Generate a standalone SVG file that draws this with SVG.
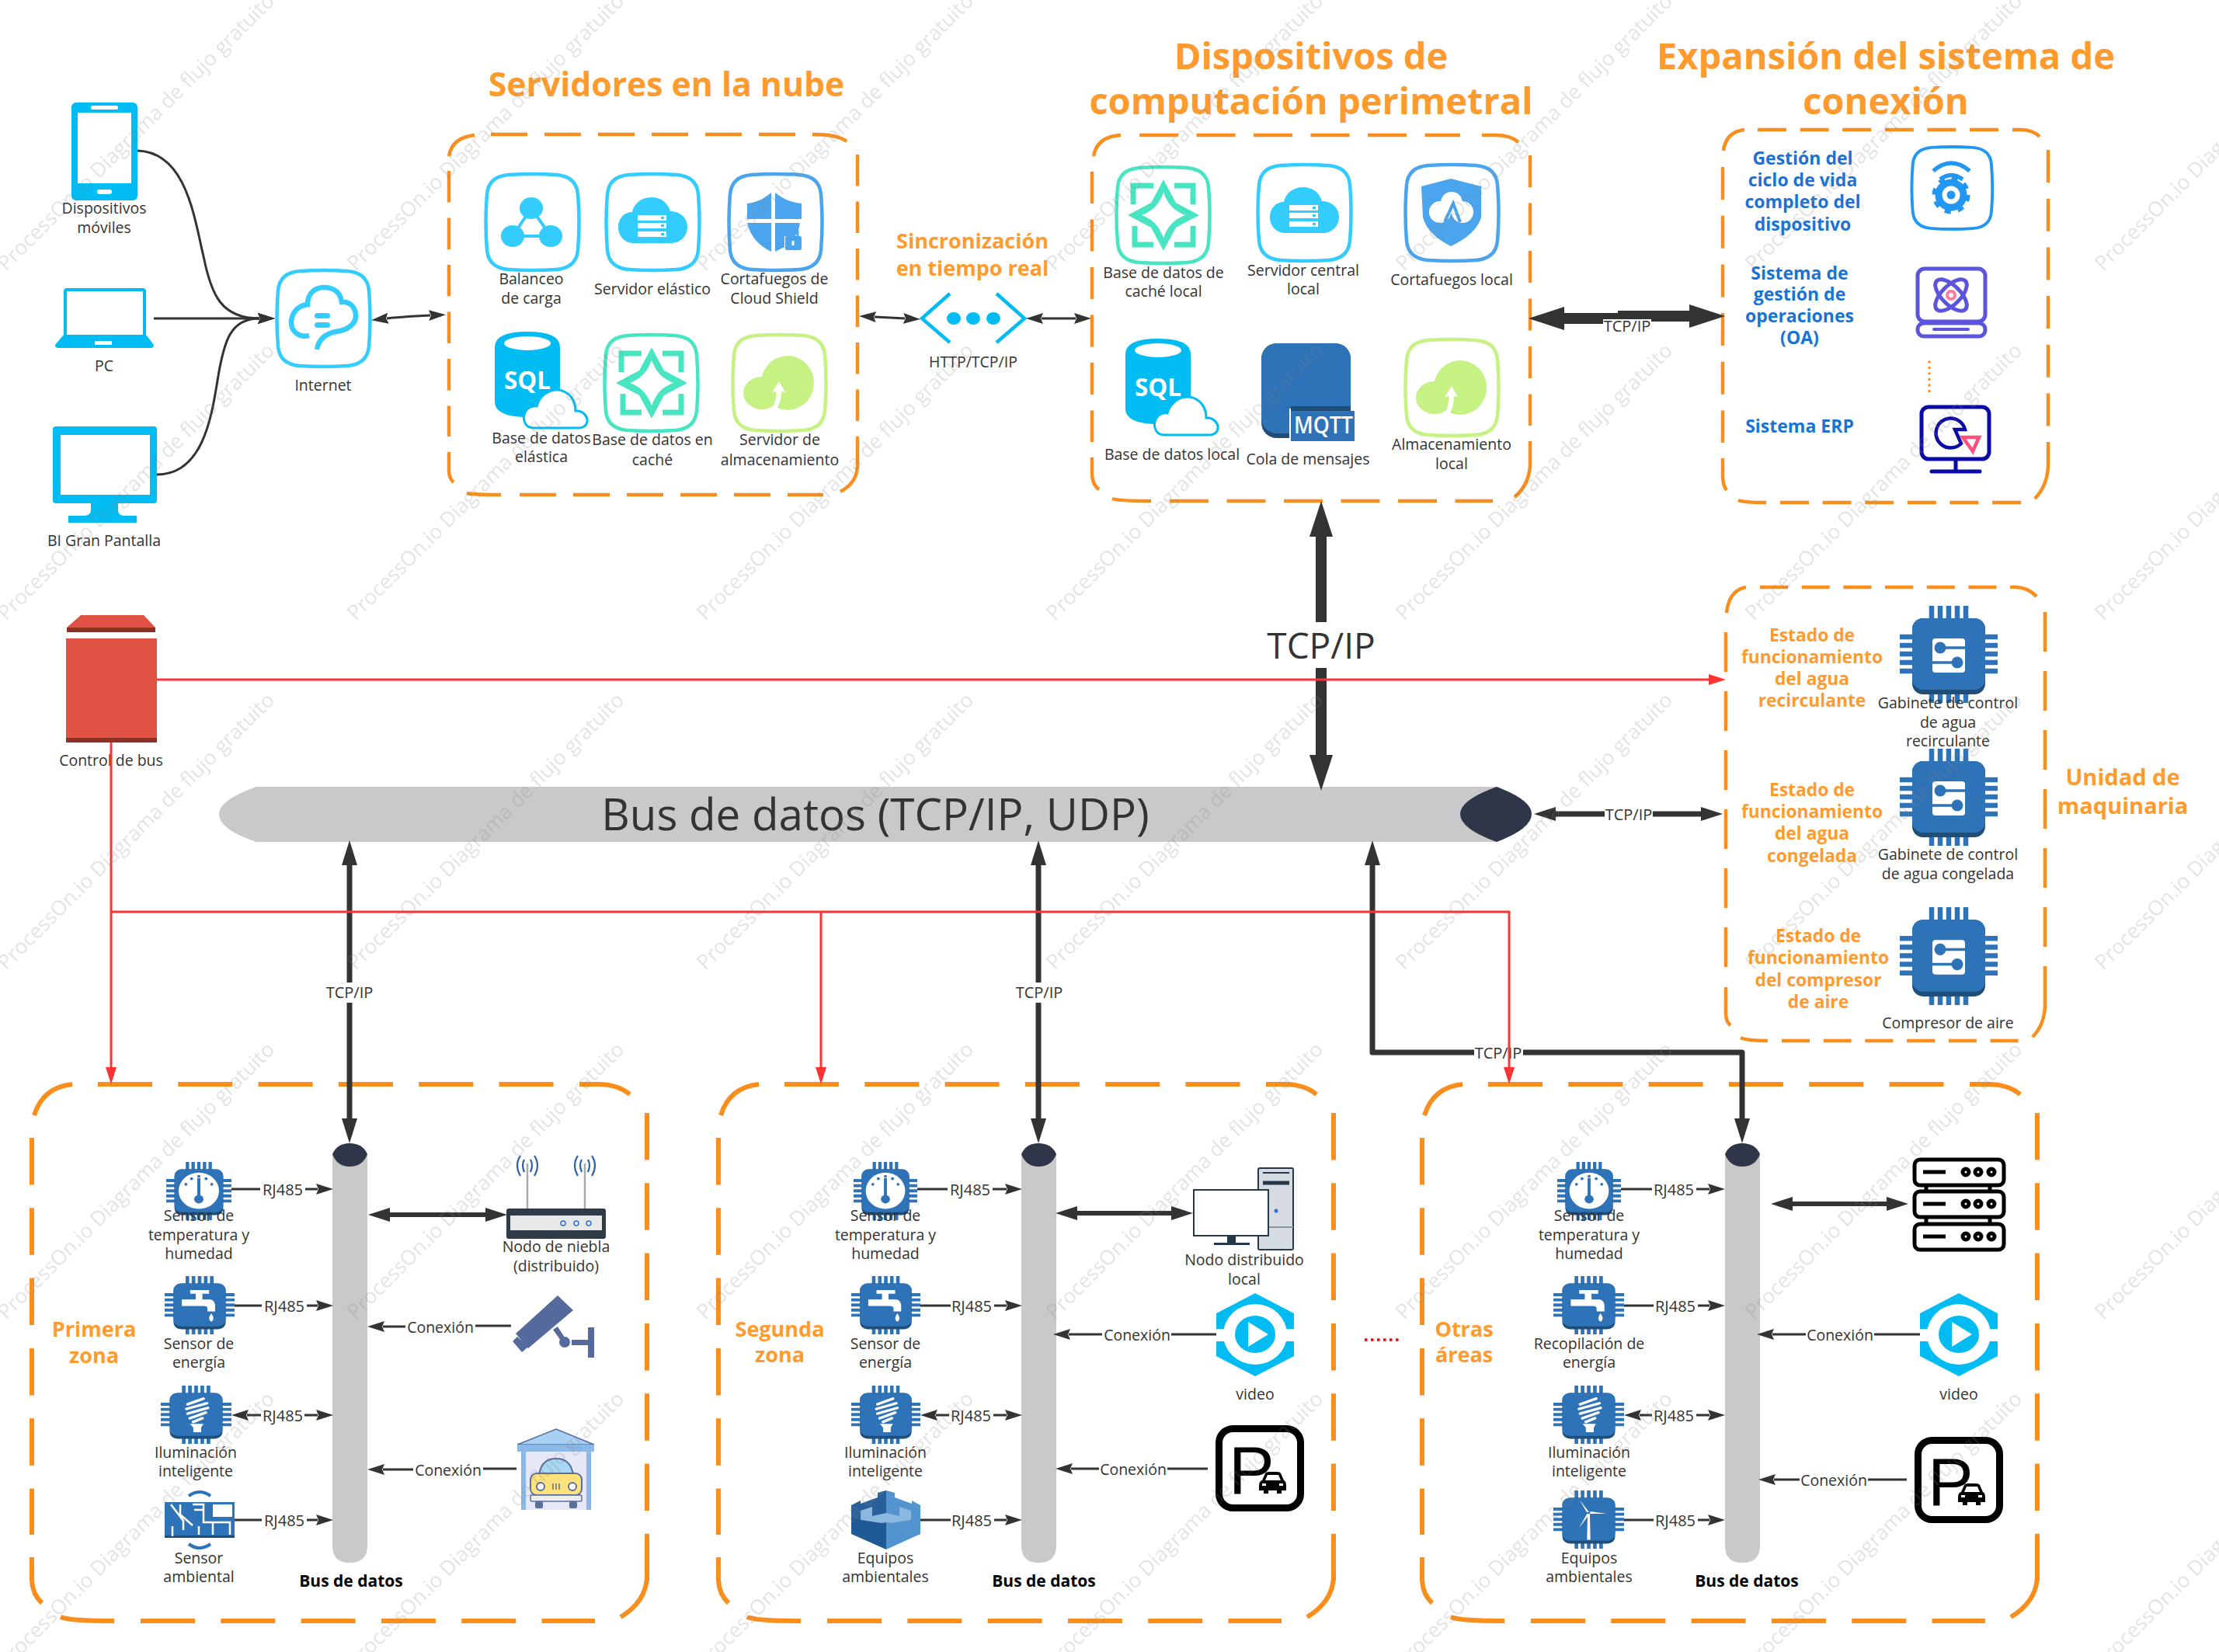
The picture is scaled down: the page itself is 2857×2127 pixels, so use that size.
<svg xmlns="http://www.w3.org/2000/svg" width="2857" height="2127" viewBox="0 0 2857 2127">
<style>
text{font-family:"Open Sans","Noto Sans","Liberation Sans",sans-serif}
.t{font-size:19.5px;fill:#333;text-anchor:middle}
.s{font-size:20px}
.ti{font-size:47px;font-weight:700;fill:#ff9a2e;text-anchor:middle}
.or{font-size:22.8px;font-weight:700;fill:#ff9a2e;text-anchor:middle}
.zn{font-size:27px;font-weight:700;fill:#ff9a2e;text-anchor:middle}
.bl{font-size:23px;font-weight:700;fill:#1a73d4;text-anchor:middle}
.bd{font-size:21px;font-weight:700;fill:#000;text-anchor:middle}
.d{fill:none;stroke:#f98e1c;stroke-width:4.5}
.z{fill:none;stroke:#f98e1c;stroke-width:6}
.c{fill:none;stroke:#333;stroke-width:3}
.c3{fill:none;stroke:#333;stroke-width:6}
.c7{fill:none;stroke:#333;stroke-width:7}
.c14{fill:none;stroke:#333;stroke-width:14}
.r{fill:none;stroke:#f33;stroke-width:3}
.sm{marker-end:url(#m1)}.sb{marker-start:url(#m1);marker-end:url(#m1)}
.dev{fill:#00bcf2}.wh{fill:#fff}.cb{fill:#33ccff}
</style>
<defs>
<marker id="m1" markerUnits="userSpaceOnUse" markerWidth="24" markerHeight="20" refX="2" refY="10" orient="auto-start-reverse"><path d="M0 3L22 10L0 17L3 10Z" fill="#333"/></marker>
<marker id="m3" markerUnits="userSpaceOnUse" markerWidth="30" markerHeight="22" refX="2" refY="11" orient="auto-start-reverse"><path d="M0 2L28 11L0 20Z" fill="#333"/></marker>
<marker id="m4" markerUnits="userSpaceOnUse" markerWidth="34" markerHeight="24" refX="2" refY="12" orient="auto-start-reverse"><path d="M0 2L32 12L0 22Z" fill="#333"/></marker>
<marker id="m5" markerUnits="userSpaceOnUse" markerWidth="50" markerHeight="34" refX="2" refY="17" orient="auto-start-reverse"><path d="M2 2L48 17L2 32Z" fill="#333"/></marker>
<marker id="r1" markerUnits="userSpaceOnUse" markerWidth="24" markerHeight="18" refX="2" refY="9" orient="auto"><path d="M0 2L22 9L0 16Z" fill="#f33"/></marker>

<path id="fr" d="M30 1Q60 -1 91 1Q117 3 119 26Q122 62 119 98Q117 121 91 123Q60 125 30 123Q4 121 2 98Q-1 62 2 26Q4 3 30 1Z" fill="#fff" stroke-width="4.500"/>
<g id="cloudsrv"><path class="cb" d="M20 59C8 59 0 50 0 38C0 27 8 19 18 19C20 8 30 0 43 0C56 0 64 8 67 18C80 18 89 27 89 38C89 50 80 59 68 59Z"/><path class="wh" d="M25 23H62V30H25ZM25 33H62V40H25ZM25 44H62V51H25Z"/><path class="cb" d="M55 25h4v3h-4zM55 35h4v3h-4zM55 46h4v3h-4z"/></g>
<g id="cache"><use href="#fr" stroke="#47e5c2"/><path d="M22 48V24H48M75 24H99V48M99 76V100H75M48 100H24V76" fill="none" stroke="#47e5c2" stroke-width="7"/><path d="M61 13L78 45L110 62L78 79L61 111L44 79L12 62L44 45Z" fill="#47e5c2" stroke="#fff" stroke-width="3"/><path d="M61 38Q68 55 84 62Q68 69 61 86Q54 69 38 62Q54 55 61 38Z" fill="#fff" stroke="#fff" stroke-width="4"/></g>
<g id="store"><use href="#fr" stroke="#c5f283"/><ellipse cx="71" cy="62" rx="34" ry="35" fill="#c5f283"/><ellipse cx="38" cy="75" rx="24" ry="21" fill="#c5f283"/><path d="M60 60L68 74L63 73Q63 88 56 97L49 97Q57 88 56 73L51 74Z" fill="#fff"/></g>
<g id="sql"><path d="M0 20Q0 0 42 0Q84 0 84 20V90Q84 110 42 110Q0 110 0 90Z" fill="#00bcf2"/><ellipse cx="42" cy="15" rx="30" ry="9" fill="#fff"/><text x="42" y="74" font-size="33" font-weight="700" fill="#fff" text-anchor="middle" textLength="60" lengthAdjust="spacingAndGlyphs">SQL</text><path d="M50 124C40 124 36 115 38 107C40 98 48 95 54 96C58 82 70 74 82 75C96 77 104 88 104 102C114 101 120 110 119 116C118 122 112 124 108 124Z" fill="#fff" stroke="#00bcf2" stroke-width="3"/></g>
<g id="cpins"><path d="M41 0V125M52 0V125M63 0V125M74 0V125M85 0V125M0 40H126M0 51H126M0 62H126M0 73H126M0 84H126" stroke="#2e73b8" stroke-width="6.5" fill="none"/><rect x="16" y="16" width="94" height="98" rx="14" fill="#1f4e79"/><rect x="16" y="16" width="94" height="92" rx="14" fill="#2e73b8"/></g>
<symbol id="chip-s" viewBox="0 0 126 125" preserveAspectRatio="none"><use href="#cpins"/><rect x="42" y="42" width="42" height="44" rx="4" fill="#fff"/><path d="M50 54H84M42 73H74" stroke="#2e73b8" stroke-width="3.5"/><circle cx="52" cy="54" r="7.5" fill="#2e73b8"/><circle cx="74" cy="73" r="7.5" fill="#2e73b8"/></symbol>
<symbol id="chip-temp" viewBox="0 0 126 125" preserveAspectRatio="none"><use href="#cpins"/><circle cx="63" cy="62" r="39" fill="#fff"/><path d="M63 35V78" stroke="#2e73b8" stroke-width="6"/><circle cx="63" cy="80" r="9" fill="#2e73b8"/><path d="M38 48v.1M49 36v.1M63 31v.1M77 36v.1M88 48v.1" stroke="#2e73b8" stroke-width="6" stroke-linecap="round"/></symbol>
<symbol id="chip-tap" viewBox="0 0 126 125" preserveAspectRatio="none"><use href="#cpins"/><path d="M46 30H80V38H68V50H82Q91 52 91 65V76H77V68Q76 64 70 64H31V50H56V38H46Z" fill="#fff"/><path d="M84 80Q92 92 84 98Q76 92 84 80Z" fill="#fff"/></symbol>
<symbol id="chip-bulb" viewBox="0 0 126 125" preserveAspectRatio="none"><use href="#cpins"/><path d="M48 40L76 28M46 50L82 38M48 60L84 48M52 70L80 58M58 78L74 70" stroke="#fff" stroke-width="5.5" stroke-linecap="round"/><path d="M52 82H76L72 90V100H58V90Z" fill="#fff"/></symbol>
<symbol id="chip-wind" viewBox="0 0 126 125" preserveAspectRatio="none"><use href="#cpins"/><path d="M61 50H65L66 106H60Z" fill="#fff"/><path d="M64 47L47 21L59 46ZM65 50L95 50L66 45ZM60 50L46 80L63 53Z" fill="#fff"/></symbol>
<symbol id="video" viewBox="0 0 100 107"><path d="M50 0L100 26V81L50 107L0 81V26Z" fill="#00bcf2"/><ellipse cx="50" cy="53" rx="41" ry="39" fill="#fff"/><path d="M0 46H16V62H0ZM84 46H100V62H84Z" fill="#fff"/><ellipse cx="50" cy="53" rx="26" ry="24" fill="#00bcf2"/><path d="M41 37V69L67 53Z" fill="#fff"/></symbol>
<symbol id="park" viewBox="0 0 114 111"><rect x="4.500" y="4.500" width="105" height="102" rx="18" fill="#fff" stroke="#000" stroke-width="9"/><text x="17" y="88" font-size="88" fill="#000" style="font-family:'Liberation Sans',sans-serif">P</text><path d="M56 78Q56 72 60 71L64 62Q65 60 69 60H79Q83 60 84 62L88 71Q91 72 91 78V84H85V88H79V84H68V88H62V84H56Z" fill="#000"/><path d="M67 64H81L84 71H64Z" fill="#fff"/><path d="M60 75h5v3h-5zM82 75h5v3h-5z" fill="#fff"/></symbol>
<g id="zf"><path class="z" stroke-dasharray="70 33.3" d="M126 1396H713M181 2087H766"/><path class="z" stroke-dasharray="60.5 29.8" d="M41 1465V1976M833 1433V2036"/><path class="z" d="M93 1396Q55 1400 44 1436M746 1396H770Q795 1396 811 1409M833 2030Q832 2062 799 2082M41 2005V2035Q42 2053 54 2064M78 2082Q90 2087 147 2087"/></g>
<g id="vbus"><path d="M428 1486V1990Q428 2012 450 2012Q473 2012 473 1990V1486Z" fill="#c9c9c9"/><path d="M428 1486Q434 1472 450 1472Q467 1472 473 1486Q467 1502 450 1502Q434 1502 428 1486Z" fill="#30364a"/></g>
<pattern id="wm" width="450" height="450" patternUnits="userSpaceOnUse" patternTransform="translate(-25 -25)"><text transform="translate(33 375) rotate(-45)" font-size="26.4" fill="#808080" fill-opacity=".22">ProcessOn.io Diagrama de flujo gratuito</text></pattern>
</defs>
<rect width="2857" height="2127" fill="#fff"/>

<g id="movil"><rect class="dev" x="92" y="132" width="85" height="126" rx="6"/><rect class="wh" x="100" y="145" width="69" height="91"/><rect class="wh" x="117" y="136" width="35" height="5" rx="2"/><rect class="wh" x="125" y="244" width="19" height="6" rx="3"/><text class="t" x="134" y="275">Dispositivos</text><text class="t" x="134" y="300">móviles</text></g>
<g id="pc"><rect x="84" y="373" width="102" height="60" rx="2" fill="#fff" stroke="#00bcf2" stroke-width="4"/><path class="dev" d="M82 431H188L198 444Q198 448 194 448H75Q71 448 71 444Z"/><rect class="wh" x="122" y="439" width="22" height="5"/><text class="t" x="134" y="478">PC</text></g>
<g id="bi"><rect class="dev" x="68" y="549" width="134" height="99" rx="4"/><rect class="wh" x="78" y="560" width="115" height="77"/><path class="dev" d="M117 648H152V657Q152 664 160 664H176V673H88V664H108Q117 664 117 657Z"/><text class="t" x="134" y="703">BI Gran Pantalla</text></g>
<g id="internet"><use href="#fr" transform="translate(356 348)" stroke="#33ccff"/><path d="M408 450C410 438 418 430 432 427C450 425 459 415 458 405C457 393 448 388 440 389C438 375 428 370 417 370C405 370 396 378 396 392C384 393 375 403 375 415C375 427 385 435 398 432" fill="none" stroke="#33ccff" stroke-width="6.500"/><rect class="cb" x="405" y="403" width="20" height="7" rx="3.500"/><rect class="cb" x="405" y="415" width="20" height="7" rx="3.500"/><text class="t" x="416" y="503">Internet</text></g>

<g id="nube"><text class="ti" x="858" y="124" style="font-size:42.7px">Servidores en la nube</text>
<path class="d" stroke-dasharray="47 22" d="M632 173H1024M669 637H1060"/><path class="d" stroke-dasharray="40.500 20" d="M578 220V562M1104 199V542"/><path class="d" d="M611 174Q582 177 578 201M1046 173Q1078 173 1090 182M1104 562V600Q1103 622 1082 633M578 582V605Q578 616 584 621M601 635Q610 637 645 637"/></g>
<g id="balanceo"><use href="#fr" transform="translate(625 224)" stroke="#33ccff"/><path d="M684 268L660 304H709Z" fill="none" stroke="#33ccff" stroke-width="4"/><ellipse class="cb" cx="684" cy="268" rx="15" ry="14"/><ellipse class="cb" cx="660" cy="304" rx="15" ry="14"/><ellipse class="cb" cx="709" cy="304" rx="15" ry="14"/><text class="t" x="684" y="366">Balanceo</text><text class="t" x="684" y="391">de carga</text></g>
<g id="elastico"><use href="#fr" transform="translate(780 224)" stroke="#33ccff"/><use href="#cloudsrv" transform="translate(796 254)"/><text class="t" x="840" y="379">Servidor elástico</text></g>
<g id="shield"><use href="#fr" transform="translate(938 224)" stroke="#4aa5ee"/><path d="M962 262Q980 260 993 248V282H962ZM998 248Q1012 260 1032 262V282H998ZM962 287H993V324Q968 312 962 287ZM998 287H1030Q1028 305 1010 318L998 324Z" fill="#4aa5ee"/><path d="M1010 304h24v20h-24z" fill="#fff"/><path d="M1015 306V298Q1015 291 1021 291Q1027 291 1027 298V306" fill="none" stroke="#4aa5ee" stroke-width="3"/><rect x="1011" y="304" width="21" height="18" rx="2" fill="#4aa5ee"/><path d="M1021 310v6" stroke="#fff" stroke-width="3"/><text class="t" x="997" y="366">Cortafuegos de</text><text class="t" x="997" y="391">Cloud Shield</text></g>
<g id="sqlel"><use href="#sql" transform="translate(637 427)"/><text class="t" x="697" y="571">Base de datos</text><text class="t" x="697" y="595">elástica</text></g>
<g id="cachen"><use href="#cache" transform="translate(778 431)"/><text class="t" x="840" y="573">Base de datos en</text><text class="t" x="840" y="599">caché</text></g>
<g id="storen"><use href="#store" transform="translate(943 431)"/><text class="t" x="1004" y="573">Servidor de</text><text class="t" x="1004" y="599">almacenamiento</text></g>

<g id="sync"><text class="zn" x="1252" y="320">Sincronización</text><text class="zn" x="1252" y="355">en tiempo real</text><path d="M1223 378L1187 410L1223 441M1283 378L1319 410L1283 441" fill="none" stroke="#00bcf2" stroke-width="4.500"/><ellipse class="dev" cx="1228" cy="410" rx="9" ry="8"/><ellipse class="dev" cx="1253" cy="410" rx="9" ry="8"/><ellipse class="dev" cx="1279" cy="410" rx="9" ry="8"/><text class="t" x="1253" y="473">HTTP/TCP/IP</text></g>

<g id="perimetral"><text class="ti" x="1688" y="89">Dispositivos de</text><text class="ti" x="1688" y="147">computación perimetral</text>
<path class="d" stroke-dasharray="50 23.500" d="M1467 174H1880M1506 645H1922"/><path class="d" stroke-dasharray="41 20.500" d="M1406 221V569M1970 200V548"/><path class="d" d="M1443 174Q1412 176 1408 201M1908 174H1925Q1945 174 1955 183M1970 568V600Q1968 625 1950 640M1406 589V612Q1407 625 1415 630M1432 642Q1440 645 1482 645"/></g>
<g id="cachel"><use href="#cache" transform="translate(1437 215)"/><text class="t" x="1498" y="358">Base de datos de</text><text class="t" x="1498" y="382">caché local</text></g>
<g id="central"><use href="#fr" transform="translate(1619 212)" stroke="#33ccff"/><use href="#cloudsrv" transform="translate(1635 241)"/><text class="t" x="1678" y="355">Servidor central</text><text class="t" x="1678" y="379">local</text></g>
<g id="cortal"><use href="#fr" transform="translate(1809 212)" stroke="#4aa5ee"/><path d="M1868 230L1907 240V280Q1900 302 1868 317Q1838 302 1832 280L1830 240Z" fill="#4aa5ee"/><circle class="wh" cx="1854" cy="273" r="14"/><circle class="wh" cx="1869" cy="261" r="14"/><circle class="wh" cx="1883" cy="273" r="14"/><path d="M1860 286L1871 262L1880 286" fill="none" stroke="#4aa5ee" stroke-width="4"/><text class="t" x="1869" y="367">Cortafuegos local</text></g>
<g id="sqll"><use href="#sql" transform="translate(1449 436)"/><text class="t" x="1509" y="592">Base de datos local</text></g>
<g id="mqtt"><rect x="1624" y="442" width="115" height="122" rx="20" fill="#1f4e79"/><rect x="1624" y="442" width="115" height="116" rx="20" fill="#2e73b8"/><rect x="1660" y="526" width="86" height="44" fill="#fff"/><rect x="1662" y="529" width="82" height="39" fill="#2e73b8"/><rect x="1662" y="523" width="77" height="6" fill="#1f4e79"/><text x="1704" y="558" font-size="30" font-weight="600" fill="#fff" text-anchor="middle" textLength="76" lengthAdjust="spacingAndGlyphs">MQTT</text><text class="t" x="1684" y="598">Cola de mensajes</text></g>
<g id="storel"><use href="#store" transform="translate(1809 437)"/><text class="t" x="1869" y="579">Almacenamiento</text><text class="t" x="1869" y="604">local</text></g>

<g id="expansion"><text class="ti" x="2428" y="89">Expansión del sistema de</text><text class="ti" x="2428" y="147">conexión</text>
<path class="d" stroke-dasharray="37 17.600" d="M2263 167H2573M2292 647H2602"/><path class="d" stroke-dasharray="42 20.700" d="M2218 215V570M2637 193V549"/><path class="d" d="M2246 167Q2222 170 2219 194M2591 167H2600Q2618 167 2626 176M2637 569V600Q2636 625 2620 642M2218 590V612Q2218 625 2223 631M2238 644Q2245 647 2274 647"/></g>
<g id="oplife"><text class="bl" x="2321" y="212">Gestión del</text><text class="bl" x="2321" y="240">ciclo de vida</text><text class="bl" x="2321" y="268">completo del</text><text class="bl" x="2321" y="297">dispositivo</text><use href="#fr" transform="translate(2461 189) scale(.865 .855)" stroke="#2196f3"/><path d="M2489 220Q2512 200 2536 220M2498 231Q2512 220 2527 231" fill="none" stroke="#2196f3" stroke-width="5.500"/><circle cx="2512" cy="251" r="16" fill="none" stroke="#2196f3" stroke-width="9"/><circle cx="2512" cy="251" r="22" fill="none" stroke="#2196f3" stroke-width="5" stroke-dasharray="8 9.300"/><circle cx="2512" cy="251" r="5.500" fill="#2196f3"/></g>
<g id="oa"><text class="bl" x="2317" y="360">Sistema de</text><text class="bl" x="2317" y="387">gestión de</text><text class="bl" x="2317" y="415">operaciones</text><text class="bl" x="2317" y="443">(OA)</text><rect x="2469" y="346" width="87" height="68" rx="9" fill="none" stroke="#5b54dc" stroke-width="5"/><rect x="2469" y="416" width="87" height="17" rx="8" fill="none" stroke="#5b54dc" stroke-width="5"/><path d="M2490 424H2534" stroke="#5b54dc" stroke-width="4" stroke-linecap="round"/><ellipse cx="2512" cy="380" rx="26" ry="12" fill="none" stroke="#5b54dc" stroke-width="5" transform="rotate(45 2512 380)"/><ellipse cx="2512" cy="380" rx="26" ry="12" fill="none" stroke="#5b54dc" stroke-width="5" transform="rotate(-45 2512 380)"/><circle cx="2512" cy="380" r="5" fill="#fff" stroke="#ff79a8" stroke-width="4"/></g>
<path id="puntos" d="M2484 466V506" stroke="#f98e1c" stroke-width="3.500" stroke-dasharray="0 7.500" stroke-linecap="round"/>
<g id="erp"><text class="bl" x="2317" y="557">Sistema ERP</text><rect x="2474" y="524" width="87" height="67" rx="9" fill="none" stroke="#0a0aa8" stroke-width="5"/><path d="M2518 592V607M2487 607H2549" stroke="#0a0aa8" stroke-width="5" stroke-linecap="round"/><path d="M2530 553A19 19 0 1 0 2525 571L2517 553Z" fill="none" stroke="#0a0aa8" stroke-width="4.500"/><path d="M2527 563H2548L2540 581Z" fill="none" stroke="#ff4f7b" stroke-width="4.500"/></g>

<g id="maquinaria"><text class="zn" x="2733" y="1011" style="font-size:29px">Unidad de</text><text class="zn" x="2733" y="1048" style="font-size:29px">maquinaria</text>
<path class="d" stroke-dasharray="36 17.700" d="M2266 756H2571M2294 1340H2599"/><path class="d" stroke-dasharray="51 25" d="M2222 814V1245M2633 788V1219"/><path class="d" d="M2248 756Q2226 760 2223 789M2588 756H2596Q2612 757 2622 768M2633 1244V1295Q2632 1320 2617 1335M2222 1271V1305Q2222 1315 2228 1320M2241 1336Q2250 1340 2276 1340"/></g>
<g id="recirc"><text class="or" x="2333" y="826">Estado de</text><text class="or" x="2333" y="854">funcionamiento</text><text class="or" x="2333" y="882">del agua</text><text class="or" x="2333" y="910">recirculante</text><use href="#chip-s" x="2446" y="780" width="126" height="125"/><text class="t" x="2508" y="912">Gabinete de control</text><text class="t" x="2508" y="937">de agua</text><text class="t" x="2508" y="961">recirculante</text></g>
<g id="congel"><text class="or" x="2333" y="1025">Estado de</text><text class="or" x="2333" y="1053">funcionamiento</text><text class="or" x="2333" y="1081">del agua</text><text class="or" x="2333" y="1110">congelada</text><use href="#chip-s" x="2446" y="964" width="126" height="125"/><text class="t" x="2508" y="1107">Gabinete de control</text><text class="t" x="2508" y="1132">de agua congelada</text></g>
<g id="compresor"><text class="or" x="2341" y="1213">Estado de</text><text class="or" x="2341" y="1241">funcionamiento</text><text class="or" x="2341" y="1270">del compresor</text><text class="or" x="2341" y="1298">de aire</text><use href="#chip-s" x="2446" y="1168" width="126" height="126"/><text class="t" x="2508" y="1324">Compresor de aire</text></g>

<g id="control"><path d="M104 792H185L200 808H86Z" fill="#e05243"/><rect x="86" y="808" width="114" height="6" fill="#8c3123"/><rect x="85" y="822" width="117" height="128" fill="#e05243"/><rect x="85" y="950" width="117" height="6" fill="#8c3123"/><text class="t" x="143" y="986">Control de bus</text></g>
<g id="busdatos"><path d="M1927 1013H330Q282 1030 282 1048Q282 1068 330 1084H1927Z" fill="#c9c9c9"/><path d="M1927 1013Q1880 1030 1880 1048Q1880 1067 1927 1084Q1972 1067 1972 1048Q1972 1030 1927 1013Z" fill="#30364a"/><text x="1127" y="1069" font-size="56.500" fill="#333" text-anchor="middle">Bus de datos (TCP/IP, UDP)</text></g>

<g id="zona1"><use href="#zf"/><use href="#vbus"/><text class="zn" x="121" y="1721">Primera</text><text class="zn" x="121" y="1755">zona</text><text class="bd" x="452" y="2043">Bus de datos</text>
<use href="#chip-temp" x="214" y="1496" width="84" height="75"/><text class="t" x="256" y="1572">Sensor de</text><text class="t" x="256" y="1597">temperatura y</text><text class="t" x="256" y="1621">humedad</text>
<use href="#chip-tap" x="212" y="1643" width="90" height="75"/><text class="t" x="256" y="1737">Sensor de</text><text class="t" x="256" y="1761">energía</text>
<use href="#chip-bulb" x="207" y="1784" width="91" height="75"/><text class="t" x="252" y="1877">Iluminación</text><text class="t" x="252" y="1901">inteligente</text>
<g id="circuito"><path d="M243 1926Q257 1916 271 1926M243 1988Q257 1998 271 1988" fill="none" stroke="#2e73b8" stroke-width="4"/><rect x="212" y="1934" width="90" height="45" fill="#2e73b8"/><rect x="212" y="1977" width="90" height="3" fill="#1f4e79"/><rect x="274" y="1937" width="25" height="16" fill="#fff"/><path d="M220 1937L236 1958V1970M232 1937V1950L248 1964M248 1937H262V1944H250M262 1937V1960H296V1976M274 1960V1976M222 1965V1978M256 1965V1976" fill="none" stroke="#fff" stroke-width="2.500"/></g><text class="t" x="256" y="2013">Sensor</text><text class="t" x="256" y="2037">ambiental</text>
<g id="router"><path d="M679 1498V1556M753 1498V1556" stroke="#aaa" stroke-width="2.500"/><path d="M670 1488Q662 1500 670 1514M675 1493Q671 1500 675 1509M688 1488Q696 1500 688 1514M683 1493Q687 1500 683 1509M744 1488Q736 1500 744 1514M749 1493Q745 1500 749 1509M762 1488Q770 1500 762 1514M757 1493Q761 1500 757 1509" fill="none" stroke="#2f5fa8" stroke-width="2.200"/><rect x="652" y="1556" width="128" height="39" rx="3" fill="#2f3b47"/><rect x="657" y="1565" width="118" height="19" fill="#e8e8e8"/><circle cx="725" cy="1575" r="3" fill="none" stroke="#2f6fd8" stroke-width="1.500"/><circle cx="742" cy="1575" r="3" fill="none" stroke="#2f6fd8" stroke-width="1.500"/><circle cx="758" cy="1575" r="3" fill="none" stroke="#2f6fd8" stroke-width="1.500"/><text class="t" x="716" y="1612">Nodo de niebla</text><text class="t" x="716" y="1637">(distribuido)</text></g>
<g id="camara" fill="#546a9c"><path d="M664 1717L718 1668L738 1687L680 1736Z"/><path d="M660 1727L666 1721L680 1734L672 1741Z"/><path d="M712 1712L718 1708L727 1722L722 1726Z"/><circle cx="727" cy="1728" r="7"/><rect x="736" y="1725" width="22" height="7"/><rect x="757" y="1709" width="8" height="39"/></g>
<g id="garaje"><rect x="676" y="1869" width="80" height="75" fill="#e6e8f7"/><path d="M716 1840L765 1860H666Z" fill="#a8d0f5" stroke="#5b6f9e" stroke-width="1.500"/><rect x="666" y="1860" width="99" height="9" fill="#8cb8e8"/><rect x="671" y="1869" width="6" height="75" fill="#8cb8e8"/><rect x="755" y="1869" width="6" height="75" fill="#8cb8e8"/><path d="M694 1899Q697 1878 716 1878Q735 1878 738 1899Z" fill="#a8d8f5" stroke="#5b6f9e" stroke-width="2"/><rect x="683" y="1897" width="66" height="28" rx="8" fill="#ffe27a" stroke="#5b6f9e" stroke-width="2"/><circle cx="696" cy="1914" r="5" fill="#fff" stroke="#5b6f9e" stroke-width="2"/><circle cx="737" cy="1914" r="5" fill="#fff" stroke="#5b6f9e" stroke-width="2"/><path d="M712 1910v8M716 1910v8M720 1910v8" stroke="#5b6f9e" stroke-width="1.500"/><rect x="683" y="1925" width="66" height="8" rx="2" fill="#eee" stroke="#5b6f9e" stroke-width="1.500"/><rect x="689" y="1933" width="10" height="9" rx="2" fill="#5b6f9e"/><rect x="733" y="1933" width="10" height="9" rx="2" fill="#5b6f9e"/></g></g>

<g id="zona2"><use href="#zf" transform="translate(884)"/><use href="#vbus" transform="translate(887)"/><text class="zn" x="1004" y="1721">Segunda</text><text class="zn" x="1004" y="1754">zona</text><text class="bd" x="1344" y="2043">Bus de datos</text>
<use href="#chip-temp" x="1099" y="1496" width="82" height="75"/><text class="t" x="1140" y="1572">Sensor de</text><text class="t" x="1140" y="1597">temperatura y</text><text class="t" x="1140" y="1621">humedad</text>
<use href="#chip-tap" x="1096" y="1643" width="89" height="75"/><text class="t" x="1140" y="1737">Sensor de</text><text class="t" x="1140" y="1761">energía</text>
<use href="#chip-bulb" x="1096" y="1784" width="89" height="75"/><text class="t" x="1140" y="1877">Iluminación</text><text class="t" x="1140" y="1901">inteligente</text>
<g id="castillo"><path d="M1096 1938L1108 1932V1936L1130 1928V1922L1141 1919V1975L1096 1975Z" fill="#2a6099"/><path d="M1141 1919L1152 1922V1928L1174 1936V1932L1185 1938V1975H1141Z" fill="#5294cf"/><path d="M1108 1945L1123 1940V1952L1141 1948L1158 1952V1940L1173 1945V1965L1141 1960L1108 1965Z" fill="#8ab8e0"/><path d="M1096 1955L1141 1962V1995L1096 1975Z" fill="#1f5a96"/><path d="M1185 1955L1141 1962V1995L1185 1975Z" fill="#5294cf"/></g><text class="t" x="1140" y="2013">Equipos</text><text class="t" x="1140" y="2037">ambientales</text>
<g id="computador"><rect x="1620" y="1504" width="45" height="105" rx="2" fill="#d5dbe0" stroke="#24384a" stroke-width="2"/><path d="M1626 1510H1660" stroke="#24384a" stroke-width="2"/><path d="M1626 1523H1660" stroke="#24384a" stroke-width="5"/><path d="M1620 1580H1665" stroke="#8a97a3" stroke-width="2"/><circle cx="1643" cy="1559" r="2.500" fill="#2f6fd8"/><rect x="1537" y="1532" width="96" height="59" fill="#fff" stroke="#24384a" stroke-width="2"/><rect x="1580" y="1591" width="11" height="9" fill="#24384a"/><rect x="1563" y="1600" width="46" height="3" fill="#24384a"/><text class="t" x="1602" y="1629">Nodo distribuido</text><text class="t" x="1602" y="1654">local</text></g>
<use id="video2" href="#video" x="1566" y="1665" width="100" height="107"/><text class="t" x="1616" y="1802">video</text>
<use id="park2" href="#park" x="1565" y="1835" width="114" height="111"/></g>

<g id="zona3"><use href="#zf" transform="translate(1790)"/><use href="#vbus" transform="translate(1793)"/><text class="zn" x="1885" y="1721">Otras</text><text class="zn" x="1885" y="1754">áreas</text><text class="bd" x="2249" y="2043">Bus de datos</text>
<use href="#chip-temp" x="2005" y="1496" width="82" height="75"/><text class="t" x="2046" y="1572">Sensor de</text><text class="t" x="2046" y="1597">temperatura y</text><text class="t" x="2046" y="1621">humedad</text>
<use href="#chip-tap" x="2000" y="1643" width="91" height="75"/><text class="t" x="2046" y="1737">Recopilación de</text><text class="t" x="2046" y="1761">energía</text>
<use href="#chip-bulb" x="2000" y="1784" width="91" height="75"/><text class="t" x="2046" y="1877">Iluminación</text><text class="t" x="2046" y="1901">inteligente</text>
<use href="#chip-wind" x="2000" y="1919" width="91" height="75"/><text class="t" x="2046" y="2013">Equipos</text><text class="t" x="2046" y="2037">ambientales</text>
<g id="servidores" fill="none" stroke="#000" stroke-width="5"><rect x="2465" y="1493" width="115" height="33" rx="7"/><rect x="2465" y="1534" width="115" height="33" rx="7"/><rect x="2465" y="1576" width="115" height="33" rx="7"/><path d="M2480 1526V1534M2562 1526V1534M2480 1567V1576M2562 1567V1576M2476 1509H2505M2476 1550H2505M2476 1592H2505"/><circle cx="2531" cy="1509" r="4"/><circle cx="2547" cy="1509" r="4"/><circle cx="2564" cy="1509" r="4"/><circle cx="2531" cy="1550" r="4"/><circle cx="2547" cy="1550" r="4"/><circle cx="2564" cy="1550" r="4"/><circle cx="2531" cy="1592" r="4"/><circle cx="2547" cy="1592" r="4"/><circle cx="2564" cy="1592" r="4"/></g>
<use id="video3" href="#video" x="2472" y="1665" width="100" height="107"/><text class="t" x="2522" y="1802">video</text>
<use id="park3" href="#park" x="2465" y="1850" width="114" height="111"/></g>
<path id="puntos-rojos" d="M1757 1725H1802" stroke="#f00" stroke-width="3.500" stroke-dasharray="3.500 4.500"/>

<g id="conectores">
<path class="c sm" d="M177 194C240 196 250 280 262 330C272 380 285 410 334 410"/>
<path class="c sm" d="M198 410H334"/>
<path class="c sm" d="M202 611C260 611 272 540 280 490C288 440 296 410 334 410"/>
<path class="c sb" d="M498 410Q525 407 554 406"/>
<path class="c sb" d="M1126 408Q1145 409 1165 410"/>
<path class="c sb" d="M1341 410H1385"/>
<path class="c14" marker-start="url(#m5)" marker-end="url(#m5)" d="M2014 410H2090V407H2175"/>
<rect class="wh" x="2064" y="411" width="62" height="20"/><text class="t s" x="2095" y="427">TCP/IP</text>
<path class="c14" marker-start="url(#m5)" marker-end="url(#m5)" d="M1701 691V801M1701 860V972"/>
<text x="1701" y="848" font-size="46" fill="#333" text-anchor="middle">TCP/IP</text>
<path class="c7" marker-start="url(#m3)" marker-end="url(#m3)" d="M2001 1048H2066M2128 1048H2192"/>
<text class="t s" x="2097" y="1056">TCP/IP</text>
<path class="c7" marker-start="url(#m4)" marker-end="url(#m4)" d="M450 1112V1265M450 1291V1442"/>
<text class="t s" x="450" y="1285">TCP/IP</text>
<path class="c7" marker-start="url(#m4)" marker-end="url(#m4)" d="M1337 1112V1265M1337 1291V1442"/>
<text class="t s" x="1338" y="1285">TCP/IP</text>
<path class="c7" marker-start="url(#m4)" marker-end="url(#m4)" stroke-linejoin="round" d="M1767 1112V1355H1898M1961 1355H2243V1442"/>
<text class="t s" x="1929" y="1363">TCP/IP</text>

<path class="c sm" d="M298 1531H335M393 1531H409"/><text class="t s" x="364" y="1539">RJ485</text>
<path class="c sm" d="M302 1681H337M395 1681H409"/><text class="t s" x="366" y="1689">RJ485</text>
<path class="c sb" d="M318 1822H336M392 1822H409"/><text class="t s" x="364" y="1830">RJ485</text>
<path class="c sm" d="M302 1957H337M395 1957H409"/><text class="t s" x="366" y="1965">RJ485</text>
<path class="c3" marker-start="url(#m3)" marker-end="url(#m3)" d="M500 1564H627"/>
<path class="c sm" d="M658 1707H612M522 1708H493"/><text class="t" x="567" y="1716">Conexión</text>
<path class="c sm" d="M665 1891H622M532 1892H493"/><text class="t" x="577" y="1900">Conexión</text>

<path class="c sm" d="M1181 1531H1220M1278 1531H1296"/><text class="t s" x="1249" y="1539">RJ485</text>
<path class="c sm" d="M1185 1681H1224M1280 1681H1296"/><text class="t s" x="1251" y="1689">RJ485</text>
<path class="c sb" d="M1205 1822H1222M1279 1822H1296"/><text class="t s" x="1250" y="1830">RJ485</text>
<path class="c sm" d="M1185 1957H1224M1280 1957H1296"/><text class="t s" x="1251" y="1965">RJ485</text>
<path class="c3" marker-start="url(#m3)" marker-end="url(#m3)" d="M1385 1562H1510"/>
<path class="c sm" d="M1566 1718H1508M1419 1718H1376"/><text class="t" x="1464" y="1726">Conexión</text>
<path class="c sm" d="M1555 1891H1503M1415 1891H1379"/><text class="t" x="1459" y="1899">Conexión</text>

<path class="c sm" d="M2087 1531H2127M2184 1531H2201"/><text class="t s" x="2155" y="1539">RJ485</text>
<path class="c sm" d="M2091 1681H2129M2186 1681H2201"/><text class="t s" x="2157" y="1689">RJ485</text>
<path class="c sb" d="M2111 1822H2127M2184 1822H2201"/><text class="t s" x="2155" y="1830">RJ485</text>
<path class="c sm" d="M2091 1957H2129M2186 1957H2201"/><text class="t s" x="2157" y="1965">RJ485</text>
<path class="c3" marker-start="url(#m3)" marker-end="url(#m3)" d="M2306 1550H2431"/>
<path class="c sm" d="M2472 1718H2413M2325 1718H2282"/><text class="t" x="2369" y="1726">Conexión</text>
<path class="c sm" d="M2455 1905H2405M2317 1905H2284"/><text class="t" x="2361" y="1913">Conexión</text>

<path class="r" marker-end="url(#r1)" d="M202 875H2202"/>
<path class="r" marker-end="url(#r1)" d="M143 956V1376"/>
<path class="r" marker-end="url(#r1)" d="M143 1174H1943V1376"/>
<path class="r" marker-end="url(#r1)" d="M1057 1174V1376"/>
</g>
<rect id="marca" width="2857" height="2127" fill="url(#wm)"/>
</svg>
